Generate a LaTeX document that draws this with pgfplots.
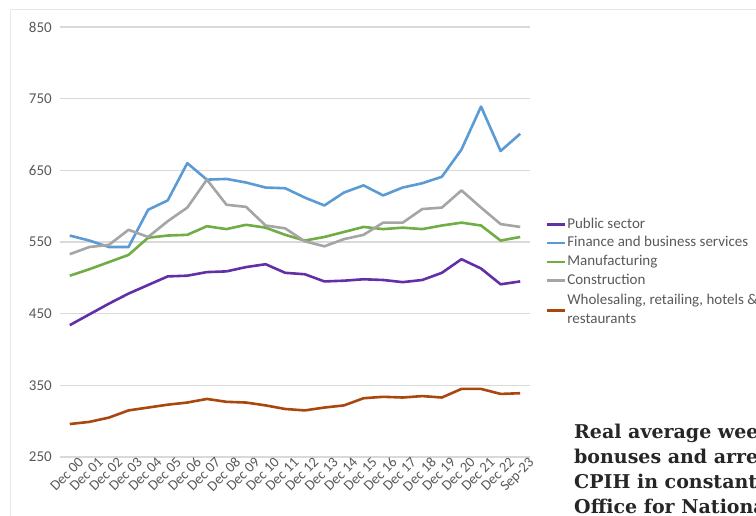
\documentclass[border=0pt]{standalone}
\usepackage{pgfplots}
\pgfplotsset{compat=1.18}
\usepackage{fontspec}
\setmainfont{Carlito}
\newfontfamily\titlefont{DejaVu Serif}
\definecolor{pubc}{HTML}{6230A6}
\definecolor{finc}{HTML}{5B9BD5}
\definecolor{manc}{HTML}{70AD47}
\definecolor{conc}{HTML}{A5A5A5}
\definecolor{whoc}{HTML}{A9470F}
\definecolor{tickc}{HTML}{595959}
\definecolor{gridc}{HTML}{D9D9D9}
\definecolor{framec}{HTML}{E8E8E8}

\pgfplotstableread{
x pub fin man con who
0  434 559 503 533 296
1  449 552 512 543 299
2  464 543 522 546 305
3  478 543 532 567 315
4  490 595 556 557 319
5  502 608 559 579 323
6  503 660 560 598 326
7  508 637 572 637 331
8  509 638 568 602 327
9  515 633 574 599 326
10 519 626 570 573 322
11 507 625 560 569 317
12 505 612 552 551 315
13 495 601 557 544 319
14 496 619 564 554 322
15 498 629 571 560 332
16 497 615 568 577 334
17 494 626 570 577 333
18 497 632 568 596 335
19 507 641 573 598 333
20 526 679 577 622 345
21 513 739 573 598 345
22 491 677 552 575 338
23 495 701 557 571 339
}\datatable

\begin{document}
\begin{tikzpicture}
\path[use as bounding box] (0pt,0pt) rectangle (756pt,515pt);
\clip (0pt,0pt) rectangle (756pt,515pt);
\draw[framec, line width=1pt] (10pt,-20pt) rectangle (800pt,505pt);
\begin{axis}[
  at={(60pt,58pt)}, anchor=south west,
  scale only axis, width=470pt, height=430pt,
  xmin=-0.5, xmax=23.5, ymin=250, ymax=850,
  ytick={250,350,...,850},
  xtick={0,...,23},
  xticklabels={Dec 00,Dec 01,Dec 02,Dec 03,Dec 04,Dec 05,Dec 06,Dec 07,Dec 08,Dec 09,Dec 10,Dec 11,Dec 12,Dec 13,Dec 14,Dec 15,Dec 16,Dec 17,Dec 18,Dec 19,Dec 20,Dec 21,Dec 22,Sep-23},
  ymajorgrids, grid style={gridc, line width=1.3pt},
  axis line style={draw=none},
  major tick length=0pt,
  tick label style={color=tickc},
  yticklabel style={font=\fontsize{15}{17}\selectfont, anchor=east, inner sep=0pt, xshift=-8pt},
  xticklabel style={font=\fontsize{14.5}{16}\selectfont, rotate=45, anchor=north east, inner sep=0pt, xshift=6pt, yshift=-5pt},
  /pgf/number format/assume math mode=true,
  every axis plot/.append style={line width=2.6pt, line join=round},
  legend image code/.code={\draw[#1] (0pt,0pt) -- (18pt,0pt);},
  legend style={at={(rel axis cs:1.032,0.563)}, anchor=north west, draw=none, fill=none,
    font=\fontsize{15}{19}\selectfont, text=tickc, inner sep=0pt, row sep=0pt,
    nodes={inner sep=1.5pt, text height=11.5pt, text depth=4.2pt}},
  legend cell align=left,
]
\addplot[pubc] table[x=x,y=pub]{\datatable};
\addlegendentry{Public sector}
\addplot[finc] table[x=x,y=fin]{\datatable};
\addlegendentry{Finance and business services}
\addplot[manc] table[x=x,y=man]{\datatable};
\addlegendentry{Manufacturing}
\addplot[conc] table[x=x,y=con]{\datatable};
\addlegendentry{Construction}
\addplot[whoc] table[x=x,y=who]{\datatable};
\addlegendentry[text height=,text depth=]{\begin{tabular}{@{}l@{}}Wholesaling, retailing, hotels \&\\restaurants\end{tabular}}
\end{axis}
\node[anchor=base west, align=left, inner sep=0pt, font=\titlefont\bfseries\fontsize{19}{24.7}\selectfont, text=black!85] at (574pt,2pt) {Real average weekly earnings including\\bonuses and arrears deflated by\\CPIH in constant 2023 prices\\Office for National Statistics};
\end{tikzpicture}
\end{document}
